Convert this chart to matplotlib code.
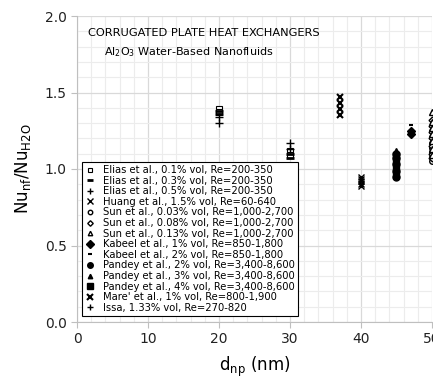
import matplotlib
matplotlib.use("Agg")
import matplotlib.pyplot as plt
from matplotlib.ticker import MultipleLocator

# ---- data ----
elias01_x = [20, 20, 30, 30]
elias01_y = [1.39, 1.37, 1.12, 1.09]
elias03_x = [20, 20, 30, 30]
elias03_y = [1.38, 1.36, 1.10, 1.07]
elias05_x = [20, 20]
elias05_y = [1.34, 1.30]
huang_x = [40, 40, 40, 40, 40]
huang_y = [0.89, 0.905, 0.92, 0.935, 0.945]
sun003_x = [50, 50, 50, 50, 50, 50, 50]
sun003_y = [1.05, 1.08, 1.11, 1.14, 1.17, 1.21, 1.25]
sun008_x = [50, 50, 50, 50, 50, 50, 50]
sun008_y = [1.07, 1.10, 1.15, 1.20, 1.24, 1.28, 1.32]
sun013_x = [50, 50, 50, 50, 50, 50, 50]
sun013_y = [1.09, 1.13, 1.18, 1.23, 1.27, 1.31, 1.37]
kabeel1_x = [47, 47]
kabeel1_y = [1.23, 1.25]
kabeel2_x = [47]
kabeel2_y = [1.29]
pandey2_x = [45, 45, 45, 45, 45]
pandey2_y = [0.95, 0.99, 1.03, 1.07, 1.10]
pandey3_x = [45, 45, 45, 45, 45]
pandey3_y = [0.96, 1.00, 1.04, 1.08, 1.12]
pandey4_x = [45, 45, 45, 45]
pandey4_y = [0.97, 1.01, 1.05, 1.09]
mare_x = [37, 37, 37, 37]
mare_y = [1.35, 1.39, 1.43, 1.47]
issa_x = [30, 30]
issa_y = [1.17, 1.13]

labels = [
    "Elias et al., 0.1% vol, Re=200-350",
    "Elias et al., 0.3% vol, Re=200-350",
    "Elias et al., 0.5% vol, Re=200-350",
    "Huang et al., 1.5% vol, Re=60-640",
    "Sun et al., 0.03% vol, Re=1,000-2,700",
    "Sun et al., 0.08% vol, Re=1,000-2,700",
    "Sun et al., 0.13% vol, Re=1,000-2,700",
    "Kabeel et al., 1% vol, Re=850-1,800",
    "Kabeel et al., 2% vol, Re=850-1,800",
    "Pandey et al., 2% vol, Re=3,400-8,600",
    "Pandey et al., 3% vol, Re=3,400-8,600",
    "Pandey et al., 4% vol, Re=3,400-8,600",
    "Mare' et al., 1% vol, Re=800-1,900",
    "Issa, 1.33% vol, Re=270-820",
]

series = [
    (elias01_x, elias01_y, dict(marker="s", ms=4, mfc="white", mec="black", mew=0.8)),
    (elias03_x, elias03_y, dict(marker="_", ms=6, mec="black", mew=2)),
    (elias05_x, elias05_y, dict(marker="+", ms=6, mec="black", mew=1)),
    (huang_x, huang_y, dict(marker="x", ms=5, mec="black", mew=1)),
    (sun003_x, sun003_y, dict(marker="o", ms=4, mfc="white", mec="black", mew=1)),
    (sun008_x, sun008_y, dict(marker="D", ms=3.5, mfc="white", mec="black", mew=1)),
    (sun013_x, sun013_y, dict(marker="^", ms=4, mfc="white", mec="black", mew=1)),
    (kabeel1_x, kabeel1_y, dict(marker="D", ms=4.5, mfc="black", mec="black")),
    (kabeel2_x, kabeel2_y, dict(marker="_", ms=3, mec="black", mew=1.5)),
    (pandey2_x, pandey2_y, dict(marker="o", ms=5, mfc="black", mec="black")),
    (pandey3_x, pandey3_y, dict(marker="^", ms=4, mfc="black", mec="black")),
    (pandey4_x, pandey4_y, dict(marker="s", ms=5, mfc="black", mec="black")),
    (mare_x, mare_y, dict(marker="x", ms=5, mec="black", mew=1.5)),
    (issa_x, issa_y, dict(marker="+", ms=6, mec="black", mew=1)),
]

plt.rcParams["font.family"] = "DejaVu Sans"
fig = plt.figure(figsize=(4.33, 3.79), dpi=100)
ax = fig.add_axes([77 / 433, 1 - 322 / 379, 355 / 433, 306 / 379])

for (xs, ys, st), lab in zip(series, labels):
    ax.plot(xs, ys, linestyle="none", color="black", label=lab, clip_on=True, zorder=3, **st)

ax.set_xlim(0, 50)
ax.set_ylim(0, 2.0)
ax.xaxis.set_major_locator(MultipleLocator(10))
ax.xaxis.set_minor_locator(MultipleLocator(2))
ax.yaxis.set_major_locator(MultipleLocator(0.5))
ax.yaxis.set_minor_locator(MultipleLocator(0.1))
ax.set_yticks([0, 0.5, 1.0, 1.5, 2.0])
ax.set_yticklabels(["0.0", "0.5", "1.0", "1.5", "2.0"])
ax.grid(True, which="minor", color="#ececec", linewidth=0.8, zorder=0)
ax.grid(True, which="major", color="#d9d9d9", linewidth=0.9, zorder=0)
ax.set_axisbelow(True)
for s in ["top", "right"]:
    ax.spines[s].set_visible(False)
ax.spines["left"].set_color("#bfbfbf")
ax.spines["bottom"].set_color("#bfbfbf")
ax.tick_params(which="major", length=4, color="#bfbfbf", labelsize=10, labelcolor="#222222")
ax.tick_params(which="minor", length=0)

ax.set_xlabel(r"d$_\mathregular{np}$ (nm)", fontsize=12, labelpad=6)
ax.set_ylabel(r"Nu$_\mathregular{nf}$/Nu$_\mathregular{H2O}$", fontsize=12, labelpad=8)

ax.text(0.03, 0.96, "CORRUGATED PLATE HEAT EXCHANGERS", transform=ax.transAxes,
        fontsize=8.2, va="top", ha="left")
ax.text(0.075, 0.905, r"Al$_\mathregular{2}$O$_\mathregular{3}$ Water-Based Nanofluids",
        transform=ax.transAxes, fontsize=8.0, va="top", ha="left")

leg = ax.legend(loc="lower left", bbox_to_anchor=(0.014, 0.02), fontsize=7.2,
                frameon=True, fancybox=False, edgecolor="black", framealpha=1,
                borderpad=0.3, labelspacing=0.06, handletextpad=0.8,
                handlelength=1.0, borderaxespad=0, markerscale=0.8)
leg.get_frame().set_linewidth(0.8)

fig.savefig("out.png", dpi=100)
